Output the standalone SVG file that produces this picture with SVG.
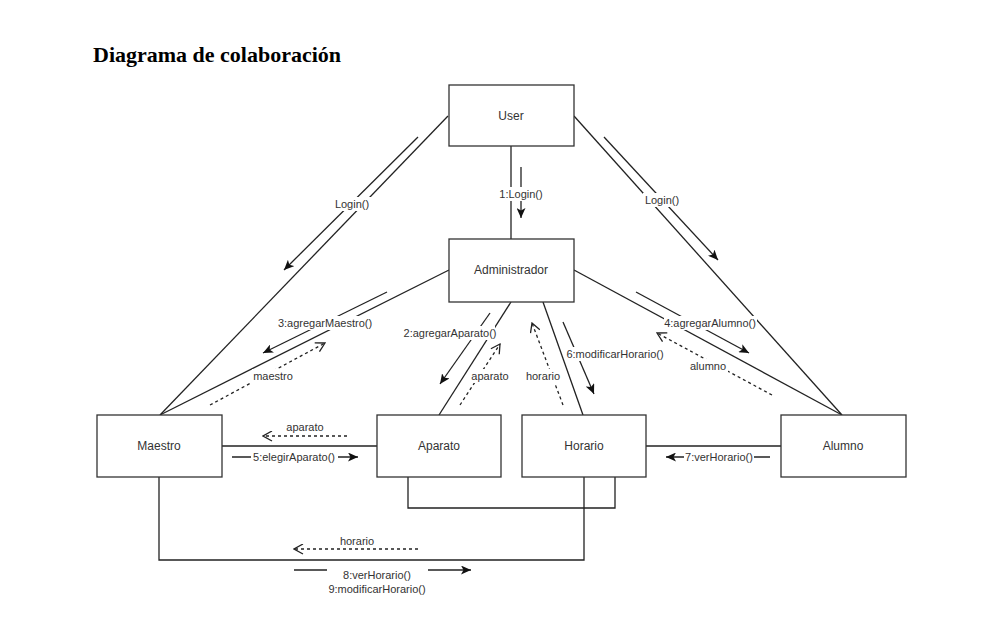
<svg xmlns="http://www.w3.org/2000/svg" width="995" height="639" viewBox="0 0 995 639">
<defs>
<style>
.box{fill:#fff;stroke:#333;stroke-width:1.3}
.nt{font-family:"Liberation Sans",Arial,sans-serif;font-size:12px;fill:#333;text-anchor:middle;dominant-baseline:central}
.lt{font-family:"Liberation Sans",Arial,sans-serif;font-size:11px;fill:#333;text-anchor:middle;dominant-baseline:central}
.ln{fill:none;stroke:#222;stroke-width:1.3}
.msg{fill:none;stroke:#222;stroke-width:1.3;marker-end:url(#fa)}
.ret{fill:none;stroke:#222;stroke-width:1.3;stroke-dasharray:3 3;marker-end:url(#oa)}
.bg{fill:#fff}
</style>
<marker id="fa" markerWidth="11" markerHeight="9" refX="10" refY="4.5" orient="auto" markerUnits="userSpaceOnUse">
<path d="M0,0 L10,4.5 L0,9 L2.5,4.5 z" fill="#111"/>
</marker>
<marker id="oa" markerWidth="11" markerHeight="11" refX="10" refY="5.5" orient="auto" markerUnits="userSpaceOnUse">
<path d="M1,0.5 L10,5.5 L1,10.5" fill="none" stroke="#222" stroke-width="1.3"/>
</marker>
</defs>
<rect width="995" height="639" fill="#fff"/>
<text x="93" y="62" font-family="'Liberation Serif','Times New Roman',serif" font-size="22" font-weight="bold" fill="#000">Diagrama de colaboración</text>

<g id="connectors">
<line class="ln" x1="448" y1="116" x2="160" y2="415"/>
<line class="ln" x1="574" y1="116" x2="842" y2="415"/>
<line class="ln" x1="511" y1="146" x2="511" y2="239"/>
<line class="ln" x1="449" y1="270" x2="160" y2="415"/>
<line class="ln" x1="574" y1="270" x2="842" y2="415"/>
<line class="ln" x1="511" y1="302" x2="439" y2="415"/>
<line class="ln" x1="543" y1="302" x2="583" y2="415"/>
<line class="ln" x1="222" y1="446" x2="377" y2="446"/>
<line class="ln" x1="646" y1="446" x2="781" y2="446"/>
<polyline class="ln" points="408,477 408,508 615,508 615,477"/>
<polyline class="ln" points="159,477 159,560 584,560 584,477"/>

<line class="msg" x1="418" y1="137" x2="284" y2="270"/>
<line class="msg" x1="604" y1="137" x2="718" y2="260"/>
<line class="msg" x1="521" y1="167" x2="521" y2="218"/>
<line class="msg" x1="387" y1="292" x2="263" y2="353"/>
<line class="ret" x1="210" y1="405" x2="325" y2="343"/>
<line class="msg" x1="490" y1="313" x2="440" y2="384"/>
<line class="ret" x1="460" y1="405" x2="500" y2="344"/>
<line class="ret" x1="563" y1="405" x2="532" y2="323"/>
<line class="msg" x1="563" y1="322" x2="594" y2="394"/>
<line class="msg" x1="636" y1="292" x2="749" y2="353"/>
<line class="ret" x1="772" y1="395" x2="657" y2="333"/>
<line class="ret" x1="347" y1="436" x2="263" y2="436"/>
<line class="msg" x1="232" y1="457" x2="358" y2="457"/>
<line class="msg" x1="770" y1="457" x2="666" y2="457"/>
<line class="ret" x1="418" y1="549" x2="294" y2="549"/>
<line class="msg" x1="294" y1="570" x2="471" y2="570"/>

<g id="labels">
<rect class="bg" x="333" y="197" width="38" height="14"/>
<text class="lt" x="352" y="204">Login()</text>
<rect class="bg" x="643" y="193" width="38" height="14"/>
<text class="lt" x="662" y="200">Login()</text>
<rect class="bg" x="499" y="187" width="45" height="14"/>
<text class="lt" x="521" y="194">1:Login()</text>
<rect class="bg" x="277" y="316" width="96" height="14"/>
<text class="lt" x="325" y="323">3:agregarMaestro()</text>
<rect class="bg" x="252" y="369" width="42" height="14"/>
<text class="lt" x="273" y="376">maestro</text>
<rect class="bg" x="406" y="326" width="89" height="14"/>
<text class="lt" x="450" y="333">2:agregarAparato()</text>
<rect class="bg" x="470" y="369" width="40" height="14"/>
<text class="lt" x="490" y="376">aparato</text>
<rect class="bg" x="525" y="369" width="37" height="14"/>
<text class="lt" x="543" y="376">horario</text>
<rect class="bg" x="566" y="347" width="98" height="14"/>
<text class="lt" x="615" y="354">6:modificarHorario()</text>
<rect class="bg" x="664" y="316" width="93" height="14"/>
<text class="lt" x="710" y="323">4:agregarAlumno()</text>
<rect class="bg" x="688" y="359" width="40" height="14"/>
<text class="lt" x="708" y="366">alumno</text>
<text class="lt" x="305" y="427">aparato</text>
<rect class="bg" x="251" y="450" width="87" height="14"/>
<text class="lt" x="294" y="457">5:elegirAparato()</text>
<rect class="bg" x="684" y="450" width="70" height="14"/>
<text class="lt" x="719" y="457">7:verHorario()</text>
<text class="lt" x="357" y="541">horario</text>
<rect class="bg" x="327" y="563" width="101" height="33"/>
<text class="lt" x="377" y="575">8:verHorario()</text>
<text class="lt" x="377" y="589">9:modificarHorario()</text>
</g>
</g>

<g id="user"><rect class="box" x="449" y="85" width="125" height="61"/><text class="nt" x="511" y="116">User</text></g>
<g id="administrador"><rect class="box" x="449" y="239" width="125" height="63"/><text class="nt" x="511" y="270">Administrador</text></g>
<g id="maestro"><rect class="box" x="97" y="415" width="125" height="62"/><text class="nt" x="159" y="446">Maestro</text></g>
<g id="aparato"><rect class="box" x="377" y="415" width="124" height="62"/><text class="nt" x="439" y="446">Aparato</text></g>
<g id="horario"><rect class="box" x="522" y="415" width="124" height="62"/><text class="nt" x="584" y="446">Horario</text></g>
<g id="alumno"><rect class="box" x="781" y="415" width="125" height="62"/><text class="nt" x="843" y="446">Alumno</text></g>
</svg>
